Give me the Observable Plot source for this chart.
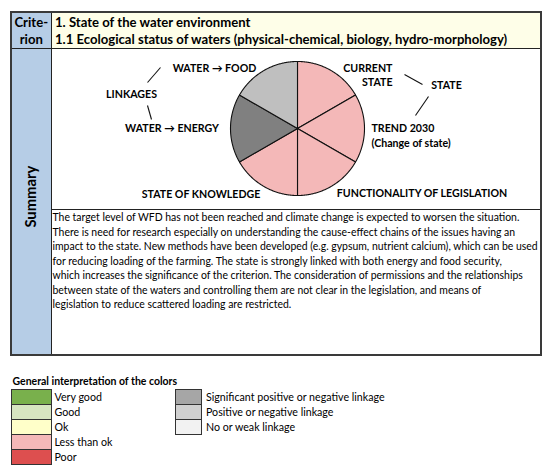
<!DOCTYPE html>
<html><head><meta charset="utf-8">
<script src="https://cdn.jsdelivr.net/npm/d3@7"></script>
<script src="https://cdn.jsdelivr.net/npm/@observablehq/plot@0.6"></script>
<style>
body{margin:0;background:#fff;}
#page{position:relative;width:550px;height:475px;overflow:hidden;color:#000;background:#fff;}
#page div{position:absolute;white-space:pre;box-sizing:border-box;}
</style></head>
<body><div id="page"></div>
<script>
// ---- data ----
const aspects = ["CURRENT STATE","TREND 2030","FUNCTIONALITY OF LEGISLATION","STATE OF KNOWLEDGE","WATER → ENERGY","WATER → FOOD"];
const shares = [1,1,1,1,1,1];
const ratings = ["Less than ok","Less than ok","Less than ok","Less than ok","Significant positive or negative linkage","Positive or negative linkage"];
const stateCategories = ["Very good","Good","Ok","Less than ok","Poor"];
const stateColors = ["#79b04c","#d7e5c1","#ffffc9","#f4b8b8","#dd4f4f"];
const linkageCategories = ["Significant positive or negative linkage","Positive or negative linkage","No or weak linkage"];
const linkageColors = ["#a6a6a6","#d0d0d0","#f2f2f2"];
const linkagePieColors = ["#808080","#bfbfbf","#f2f2f2"];
const criterionTitle = ["1. State of the water environment","1.1 Ecological status of waters (physical-chemical, biology, hydro-morphology)"];
const labelTexts = ["WATER → FOOD","LINKAGES","WATER → ENERGY","CURRENT\nSTATE","STATE","TREND 2030\n(Change of state)","STATE OF KNOWLEDGE","FUNCTIONALITY OF LEGISLATION"];
const summaryLines = [
"The target level of WFD has not been reached and climate change is expected to worsen the situation.",
"There is need for research especially on understanding the cause-effect chains of the issues having an",
"impact to the state. New methods have been developed (e.g. gypsum, nutrient calcium), which can be used",
"for reducing loading of the farming. The state is strongly linked with both energy and food security,",
"which increases the significance of the criterion. The consideration of permissions and the relationships",
"between state of the waters and controlling them are not clear in the legislation, and means of",
"legislation to reduce scattered loading are restricted."];
const legendTitle = "General interpretation of the colors";

// ---- layout ----
const FONT = "Lato, 'DejaVu Sans', sans-serif";
const L = {left:11, right:541, top:12, headBottom:48, sep:209.5, bottom:355, col:51.5};
const P = {cx:297, cy:128, r:67};
const labelLayout = [
  {x:214, y:67, anchor:"middle"},
  {x:131, y:93, anchor:"middle"},
  {x:171.5, y:127, anchor:"middle"},
  {x:392, y:74, anchor:"end"},
  {x:446, y:84, anchor:"middle"},
  {x:371, y:134.5, anchor:"start"},
  {x:200.5, y:193, anchor:"middle"},
  {x:421.5, y:192, anchor:"middle"}
];
const connectors = [
  {x1:147,y1:82,x2:160,y2:67},
  {x1:147,y1:105,x2:151,y2:119},
  {x1:404,y1:74,x2:422,y2:84},
  {x1:415,y1:115,x2:428,y2:96}
];

const ctx = document.createElement("canvas").getContext("2d");
function fit(text, weight, target){ ctx.font = `${weight} 100px ${FONT}`; return 100*target/ctx.measureText(text).width; }
const labelSize = fit("STATE OF KNOWLEDGE","bold",119);
const paraSize = Math.min(...summaryLines.map(s => fit(s,"normal",486)));
const headSize = fit(criterionTitle[1],"bold",453);
const legendSize = fit(linkageCategories[0],"normal",179);
const legendTitleSize = fit(legendTitle,"bold",165);
const colSize = fit("Summary","bold",62);

const page = document.getElementById("page");
function box(st, text){ const d=document.createElement("div"); Object.assign(d.style, st); if(text!=null) d.textContent=text; page.appendChild(d); return d; }
function px(v){return v+"px";}

// table backgrounds
box({left:px(L.left),top:px(L.top),width:px(L.col-L.left),height:px(L.bottom-L.top),background:"#b6cde6"});
box({left:px(L.col),top:px(L.top),width:px(L.right-L.col),height:px(L.headBottom-L.top),background:"#fefee8"});
// lines
box({left:px(L.left),top:px(L.headBottom-0.5),width:px(L.right-L.left),height:"1px",background:"#222"});
box({left:px(L.col),top:px(L.sep-0.5),width:px(L.right-L.col),height:"1px",background:"#222"});
box({left:px(L.col-0.5),top:px(L.top),width:"1px",height:px(L.bottom-L.top),background:"#222"});
box({left:px(L.left-1),top:px(L.top-1),width:px(L.right-L.left+2),height:px(L.bottom-L.top+2),border:"2px solid #3a3a3a"});

function textAt(text, x, y, size, weight, align, lh){
  lh = lh || size*1.3;
  const st = {top:px(y-lh/2), height:px(lh), lineHeight:px(lh), fontFamily:FONT, fontSize:px(size), fontWeight:weight};
  if(align==="center"){ st.left=px(x-150); st.width="300px"; st.textAlign="center"; } else { st.left=px(x); }
  return box(st, text);
}
// header
textAt("Crite-", (L.left+L.col)/2, 23, headSize, "bold", "center");
textAt("rion", (L.left+L.col)/2, 40, headSize, "bold", "center");
textAt(criterionTitle[0], 55, 23, headSize, "bold");
textAt(criterionTitle[1], 55, 40, headSize, "bold");
// Summary rotated
const sm = textAt("Summary", (L.left+L.col)/2, 197, colSize, "bold", "center");
sm.style.transform = "rotate(-90deg)";
// paragraph
box({left:"52.5px", top:px(217.3-7.25), lineHeight:"14.5px", fontFamily:FONT, fontSize:px(paraSize)}, summaryLines.join("\n"));

// legend
textAt(legendTitle, 12.5, 382, legendTitleSize, "bold");
stateCategories.forEach((c,i)=>{
  box({left:"11px", top:px(388.5+i*15), width:"41px", height:"16px", background:stateColors[i], border:"1px solid #333"});
  textAt(c, 54.5, 396.5+i*15, legendSize, "normal");
});
linkageCategories.forEach((c,i)=>{
  box({left:"175px", top:px(388.5+i*15), width:"27px", height:"16px", background:linkageColors[i], border:"1px solid #333"});
  textAt(c, 206, 396.5+i*15, legendSize, "normal");
});

// ---- pie via Plot ----
const arcs = d3.pie().sort(null).value(d=>d)(shares);
const pts = arcs.flatMap((a,i)=>{
  const out=[{slice:aspects[i], rating:ratings[i], t:null}];
  const n=90;
  for(let k=0;k<=n;k++) out.push({slice:aspects[i], rating:ratings[i], t:a.startAngle+(a.endAngle-a.startAngle)*k/n});
  out.push({slice:aspects[i], rating:ratings[i], t:null});
  return out;
});
const labels = labelTexts.map((t,i)=>({text:t, ...labelLayout[i]}));
const anchorMarks = ["start","middle","end"].map(an => Plot.text(labels.filter(d=>d.anchor===an), {
  x:"x", y:"y", text:"text", textAnchor:an, fontFamily:FONT, fontSize:labelSize, fontWeight:"bold", fill:"#000", lineHeight:1.33
}));
const svg = Plot.plot({
  width:550, height:475, margin:0,
  x:{domain:[0,550], range:[0,550], axis:null},
  y:{domain:[0,475], range:[0,475], axis:null},
  color:{domain:stateCategories.concat(linkageCategories), range:stateColors.concat(linkagePieColors)},
  style:{background:"transparent", overflow:"visible"},
  marks:[
    Plot.line(pts, {x:d=>d.t==null?P.cx:P.cx+P.r*Math.sin(d.t), y:d=>d.t==null?P.cy:P.cy-P.r*Math.cos(d.t), z:"slice", fill:"rating", stroke:"#111", strokeWidth:1.1, strokeLinejoin:"round"}),
    Plot.link(connectors, {x1:"x1", y1:"y1", x2:"x2", y2:"y2", stroke:"#111", strokeWidth:1.1}),
    ...anchorMarks
  ]
});
svg.style.position="absolute"; svg.style.left="0"; svg.style.top="0";
page.appendChild(svg);
</script>
</body></html>
